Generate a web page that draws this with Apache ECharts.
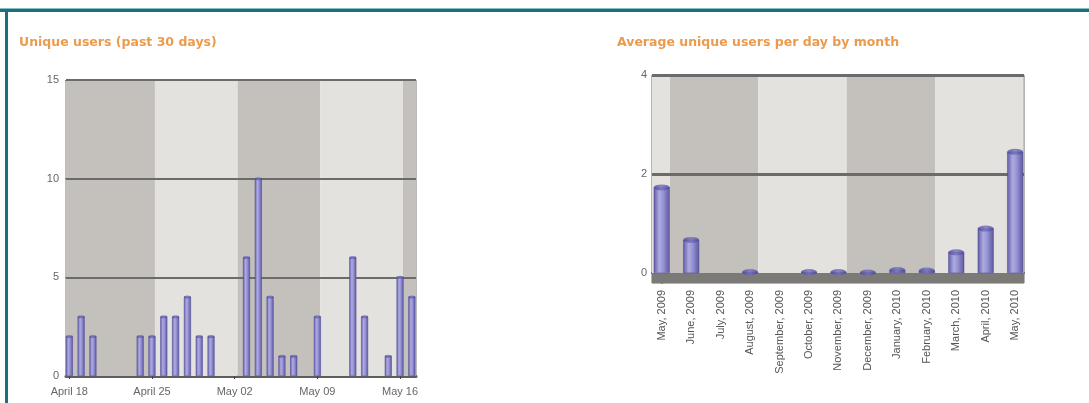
<!DOCTYPE html>
<html><head><meta charset="utf-8">
<script src="https://cdn.jsdelivr.net/npm/echarts@6/dist/echarts.min.js"></script>
<style>html,body{margin:0;padding:0;background:#fff}#c{width:1089px;height:403px}</style>
</head><body><div id="c"></div>
<script>
// ---- data ----
const dayLabels = ['April 18','April 19','April 20','April 21','April 22','April 23','April 24','April 25','April 26','April 27','April 28','April 29','April 30',
  'May 01','May 02','May 03','May 04','May 05','May 06','May 07','May 08','May 09','May 10','May 11','May 12','May 13','May 14','May 15','May 16','May 17'];
const dailyUsers = [2,3,2,0,0,0,2,2,3,3,4,2,2,0,0,6,10,4,1,1,0,3,0,0,6,3,0,1,5,4];
const dayTickLabels = ['April 18','April 25','May 02','May 09','May 16'];
const dayYTicks = [0,5,10,15];

const months = ['May, 2009','June, 2009','July, 2009','August, 2009','September, 2009','October, 2009','November, 2009','December, 2009','January, 2010','February, 2010','March, 2010','April, 2010','May, 2010'];
const monthlyAvg = [1.73,0.67,0,0.02,0,0.02,0.02,0.01,0.06,0.05,0.42,0.9,2.45];
const monthYTicks = [0,2,4];

// ---- helpers ----
const DARK = '#c4c1bd', LIGHT = '#e4e2df';
const barGrad = {type:'linear',x:0,y:0,x2:1,y2:0,colorStops:[
  {offset:0,color:'#5f5aa6'},{offset:0.35,color:'#aeabe2'},{offset:0.6,color:'#9692d4'},{offset:1,color:'#5b56a0'}]};
const capColor = {type:'linear',x:0,y:0,x2:1,y2:0,colorStops:[
  {offset:0,color:'#4d4896'},{offset:0.5,color:'#7470bf'},{offset:1,color:'#4b4692'}]};

const d0 = -0.28, d1 = 29.35;           // day axis extent
const m0 = -0.33, m1 = 12.3, floor = -0.2; // month axis extent

function bands(min, max, start, step, firstDark, yLow, yHigh) {
  const edges = [min];
  for (let e = start; e < max; e += step) edges.push(e);
  edges.push(max);
  const out = [];
  for (let i = 0; i < edges.length - 1; i++) {
    const dark = (i % 2 === 0) === firstDark;
    const a = {xAxis: edges[i], itemStyle:{color: dark ? DARK : LIGHT}};
    const b = {xAxis: edges[i+1]};
    if (yLow !== undefined) { a.yAxis = yLow; b.yAxis = yHigh; }
    out.push([a, b]);
  }
  return out;
}

const dayTickIdx = dayTickLabels.map(l => dayLabels.indexOf(l));
const monthIdx = months.map((m, i) => i);
const dayPts = dailyUsers.map((v, i) => [i, v]).filter(p => p[1] > 0);
const monthPts = monthlyAvg.map((v, i) => [i, v]).filter(p => p[1] > 0);
const titleStyle = {color:'#ec9a4c', fontSize:12.5, fontWeight:'bold', fontFamily:'DejaVu Sans'};

const chart = echarts.init(document.getElementById('c'), null, {renderer:'canvas'});
chart.setOption({
  animation:false,
  backgroundColor:'#fff',
  title:[
    {text:'Unique users (past 30 days)', left:19, top:36, padding:0, textStyle:titleStyle},
    {text:'Average unique users per day by month', left:617, top:36, padding:0, textStyle:titleStyle}
  ],
  graphic:[
    {type:'rect', shape:{x:0,y:8,width:1089,height:1}, style:{fill:'#8cbcc3'}, silent:true},
    {type:'rect', shape:{x:0,y:9,width:1089,height:3}, style:{fill:'#17727e'}, silent:true},
    {type:'rect', shape:{x:5,y:9,width:3,height:394}, style:{fill:'#17727e'}, silent:true}
  ],
  grid:[
    {left:66, top:80, width:350, height:296, show:true, borderColor:'#7a7a7a', borderWidth:1, backgroundColor:'transparent'},
    {left:652, top:75, width:372, height:208, show:true, borderColor:'#6a6a6a', borderWidth:1, backgroundColor:'transparent'}
  ],
  xAxis:[
    {gridIndex:0, type:'value', min:d0, max:d1,
     axisLine:{show:true, lineStyle:{color:'#5e5e5e', width:3}},
     axisTick:{show:true, customValues:dayTickIdx, length:3, lineStyle:{color:'#444'}},
     axisLabel:{customValues:dayTickIdx, formatter:v => dayLabels[Math.round(v)], color:'#666', fontSize:11, fontFamily:'Liberation Sans, Arial, sans-serif', margin:10},
     splitLine:{show:false}},
    {gridIndex:1, type:'value', min:m0, max:m1,
     axisLine:{show:true, lineStyle:{color:'#5e5e5e', width:2}},
     axisTick:{show:true, customValues:monthIdx, length:4, lineStyle:{color:'#444'}},
     axisLabel:{customValues:monthIdx, formatter:v => months[Math.round(v)], rotate:90, color:'#555', fontSize:11, fontFamily:'Liberation Sans Narrow, Liberation Sans, Arial, sans-serif', margin:7},
     splitLine:{show:false}}
  ],
  yAxis:[
    {gridIndex:0, type:'value', min:0, max:15, interval:5,
     axisLine:{show:true, lineStyle:{color:'#777', width:2}},
     axisTick:{show:true, length:4, lineStyle:{color:'#666'}},
     axisLabel:{color:'#666', fontSize:11, fontFamily:'Liberation Sans, Arial, sans-serif', margin:7},
     splitLine:{show:false}},
    {gridIndex:1, type:'value', min:floor, max:4,
     axisLine:{show:true, lineStyle:{color:'#777', width:2}},
     axisTick:{show:true, customValues:monthYTicks, length:4, lineStyle:{color:'#666'}},
     axisLabel:{customValues:monthYTicks, color:'#666', fontSize:11, fontFamily:'Liberation Sans, Arial, sans-serif', margin:5},
     splitLine:{show:false}}
  ],
  series:[
    // left chart background stripes + grid lines
    {type:'line', xAxisIndex:0, yAxisIndex:0, data:[], silent:true,
     markArea:{silent:true, z:1, data:bands(d0, d1, 7.25, 7, true)},
     markLine:{silent:true, z:1.5, symbol:'none', label:{show:false}, lineStyle:{color:'#6b6b6b', width:2, type:'solid'},
       data:dayYTicks.filter(v => v > 0).map(v => ({yAxis:v}))}},
    {type:'bar', xAxisIndex:0, yAxisIndex:0, z:2, barWidth:7, data:dayPts,
     itemStyle:{color:barGrad, borderColor:'#4a4690', borderWidth:0.5}},
    {type:'scatter', xAxisIndex:0, yAxisIndex:0, z:3, symbol:'circle', symbolSize:[7,3], data:dayPts,
     itemStyle:{color:capColor}},

    // right chart background stripes, floor + grid lines
    {type:'line', xAxisIndex:1, yAxisIndex:1, data:[], silent:true,
     markArea:{silent:true, z:1, data:bands(m0, m1, 0.28, 3, false, 0, 4).concat([[{yAxis:floor, itemStyle:{color:'#7b7a77'}},{yAxis:0}]])},
     markLine:{silent:true, z:1.5, symbol:'none', label:{show:false}, lineStyle:{color:'#6b6b6b', width:3, type:'solid'},
       data:monthYTicks.filter(v => v > 0).map(v => ({yAxis:v}))}},
    {type:'bar', xAxisIndex:1, yAxisIndex:1, z:2, barWidth:16, data:monthPts,
     itemStyle:{color:barGrad, borderColor:'#4a4690', borderWidth:0.5}},
    {type:'scatter', xAxisIndex:1, yAxisIndex:1, z:3, symbol:'circle', symbolSize:[16,6], data:monthPts,
     itemStyle:{color:capColor}}
  ]
});
</script>
</body></html>
